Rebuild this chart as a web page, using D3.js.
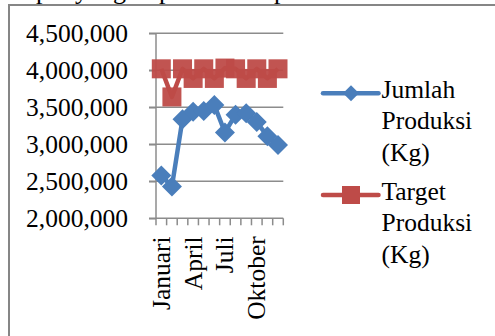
<!DOCTYPE html>
<html><head><meta charset="utf-8">
<script src="https://cdn.jsdelivr.net/npm/d3@7"></script>
<style>
html,body{margin:0;padding:0;background:#fff;}
svg{display:block;}
text{font-family:"Liberation Serif","Times New Roman",serif;fill:#000;}
</style></head>
<body>
<script>
const months = ["Januari","Februari","Maret","April","Mei","Juni","Juli","Agustus","September","Oktober","November","Desember"];
const shownLabels = ["Januari","April","Juli","Oktober"];
const jumlahProduksi = [2580000,2430000,3340000,3440000,3450000,3530000,3160000,3400000,3420000,3300000,3110000,2990000];
const targetProduksi = [4020000,3640000,4020000,3890000,4020000,3890000,4030000,4020000,3890000,4020000,3890000,4020000];
const yTicks = [2000000,2500000,3000000,3500000,4000000,4500000];
const seriesNames = [["Jumlah","Produksi","(Kg)"],["Target","Produksi","(Kg)"]];
const colors = ["#4A7EBB","#BE4B48"];

const W = 495, H = 336;
const svg = d3.select("body").append("svg").attr("width",W).attr("height",H);

// cut-off text line above the frame (descenders only)
const topLine = svg.append("text").attr("y",-1).style("font-size","26px");
[["p",36],["y",75],["g",113],["p",159],["p",274]].forEach(d=>{
  topLine.append("tspan").attr("x",d[1]).text(d[0]);
});

// frame
svg.append("path").attr("d","M9,340 V5 H500").attr("fill","none").attr("stroke","#868686").attr("stroke-width",2);

const x = d3.scaleBand().domain(months).range([156,283.3]).padding(0);
const y = d3.scaleLinear().domain([2000000,4500000]).range([218.3,33.3]);
const fmt = d3.format(",");
const gray = "#8c8c8c";

// gridlines
svg.append("g").selectAll("line").data(yTicks.slice(1)).join("line")
  .attr("x1",149).attr("x2",283.3)
  .attr("y1",d=>y(d)).attr("y2",d=>y(d))
  .attr("stroke",gray).attr("stroke-width",1.5);

// y axis
const yAxis = d3.axisLeft(y).tickValues(yTicks).tickFormat(fmt).tickSize(7).tickPadding(20);
const gy = svg.append("g").attr("transform","translate(156,0)").call(yAxis);
gy.select(".domain").attr("stroke",gray).attr("stroke-width",1.5).attr("d","M0,"+y(4500000)+"V"+y(2000000));
gy.selectAll(".tick line").attr("stroke",gray).attr("stroke-width",1.5);
gy.selectAll(".tick text").style("font-size","25.5px").style("font-family","Liberation Serif").attr("dy","0.34em").attr("x",-28);

// x axis
const xAxis = d3.axisBottom(x).tickSize(7).tickFormat(d=>shownLabels.includes(d)?d:"");
const gx = svg.append("g").attr("transform","translate(0,"+y(2000000)+")").call(xAxis);
gx.select(".domain").attr("stroke",gray).attr("stroke-width",1.5).attr("d","M149,0H283.3");
gx.selectAll(".tick line").remove();
gx.selectAll("line.bt").data(d3.range(months.length+1)).join("line").attr("class","bt")
  .attr("x1",i=>156+i*x.bandwidth()).attr("x2",i=>156+i*x.bandwidth())
  .attr("y1",0).attr("y2",7).attr("stroke",gray).attr("stroke-width",1.5);
gx.selectAll(".tick text")
  .style("font-size","25.5px").style("font-family","Liberation Serif")
  .attr("text-anchor","end").attr("transform","rotate(-90)")
  .attr("x",-18).attr("y",0).attr("dy","0.33em");

const cx = d => x(d) + x.bandwidth()/2;
const line = d3.line().x(d=>cx(d[0])).y(d=>y(d[1]));

// Target series
const tData = months.map((m,i)=>[m,targetProduksi[i]]);
svg.append("path").datum(tData).attr("d",line).attr("fill","none").attr("stroke",colors[1]).attr("stroke-width",4.5).attr("stroke-linejoin","round");
const sq = 19;
svg.append("g").selectAll("rect").data(tData).join("rect")
  .attr("x",d=>cx(d[0])-sq/2).attr("y",d=>y(d[1])-sq/2).attr("width",sq).attr("height",sq)
  .attr("fill",colors[1]).attr("fill-opacity",0.95);

// Jumlah series
const jData = months.map((m,i)=>[m,jumlahProduksi[i]]);
svg.append("path").datum(jData).attr("d",line).attr("fill","none").attr("stroke",colors[0]).attr("stroke-width",4.5).attr("stroke-linejoin","round");
const dm = 10;
svg.append("g").selectAll("path.dm").data(jData).join("path").attr("class","dm")
  .attr("d",d=>{const X=cx(d[0]),Y=y(d[1]);return `M${X},${Y-dm}L${X+dm},${Y}L${X},${Y+dm}L${X-dm},${Y}Z`;})
  .attr("fill",colors[0]);

// legend
const legY = [93.3, 195];
const lg = svg.append("g");
seriesNames.forEach((names,i)=>{
  const g = lg.append("g");
  g.append("line").attr("x1",323).attr("x2",378.5).attr("y1",legY[i]).attr("y2",legY[i]).attr("stroke",colors[i]).attr("stroke-width",4.5).attr("stroke-linecap","round");
  if(i===0){
    const X=351,Y=legY[i],r=8;
    g.append("path").attr("d",`M${X},${Y-r}L${X+r},${Y}L${X},${Y+r}L${X-r},${Y}Z`).attr("fill",colors[0]);
  } else {
    g.append("rect").attr("x",351-9).attr("y",legY[i]-9).attr("width",18).attr("height",18).attr("fill",colors[1]);
  }
  names.forEach((t,k)=>{
    g.append("text").attr("x",381.5).attr("y",legY[i]+4.5+k*31.5).style("font-size","25.5px").text(t);
  });
});
</script>
</body></html>
